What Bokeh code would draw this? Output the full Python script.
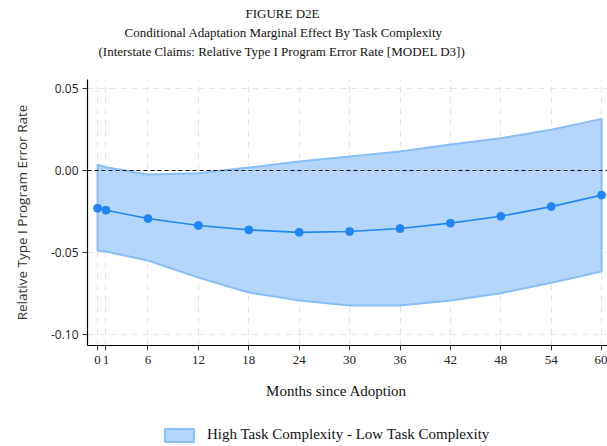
from bokeh.plotting import figure
from bokeh.layouts import column
from bokeh.models import Legend, LegendItem, FixedTicker, Range1d, Span, Title, Label
from bokeh.embed import file_html
from bokeh.resources import INLINE

# ---- data ----
months = [0, 1, 6, 12, 18, 24, 30, 36, 42, 48, 54, 60]
effect = [-0.0230, -0.0242, -0.0293, -0.0335, -0.0362, -0.0377, -0.0372, -0.0354, -0.0321, -0.0279, -0.0220, -0.0150]
upper = [0.0035, 0.0020, -0.0024, -0.0016, 0.0018, 0.0055, 0.0085, 0.0116, 0.0159, 0.0197, 0.0248, 0.0315]
lower = [-0.0488, -0.0494, -0.0549, -0.0652, -0.0744, -0.0793, -0.0823, -0.0823, -0.0793, -0.0748, -0.0685, -0.0616]
x_ticks = [0, 1, 6, 12, 18, 24, 30, 36, 42, 48, 54, 60]
y_ticks = [0.05, 0.0, -0.05, -0.10]
y_tick_labels = ["0.05", "0.00", "-0.05", "-0.10"]
title_lines = ["FIGURE D2E",
               "Conditional Adaptation Marginal Effect By Task Complexity",
               "(Interstate Claims: Relative Type I Program Error Rate [MODEL D3])"]
x_label = "Months since Adoption"
legend_label = "High Task Complexity - Low Task Complexity"

SERIF = "Liberation Serif"
SANS = "Open Sans"
BAND_FILL = "#b5d6fc"
BAND_LINE = "#86bdfa"

p = figure(frame_width=520, frame_height=266, output_backend="svg", toolbar_location=None, title=None,
           x_range=Range1d(-1.2, 60.7), y_range=Range1d(-0.1067, 0.0555),
           min_border_left=87, min_border_right=0, min_border_top=79, min_border_bottom=30)
p.outline_line_color = None

# grid
for g in (p.xgrid, p.ygrid):
    g.grid_line_color = "#e4e4e4"
    g.grid_line_dash = "6 5"
    g.grid_line_width = 1.2
p.xgrid.ticker = FixedTicker(ticks=x_ticks)
p.ygrid.ticker = FixedTicker(ticks=y_ticks)

# band
band_x = months + months[::-1]
band_y = upper + lower[::-1]
band = p.patch(band_x, band_y, fill_color=BAND_FILL, fill_alpha=1.0,
               line_color=BAND_LINE, line_width=2)

# zero line
p.add_layout(Span(location=0, dimension="width", line_color="black",
                  line_dash="4 3", line_width=1.2))

# effect line + points
p.line(months, effect, line_color="#2186f5", line_width=1.6)
p.scatter(months, effect, size=8, fill_color="#2186f5", line_color="#2186f5")

# axes
p.xaxis.ticker = FixedTicker(ticks=x_ticks)
p.yaxis.ticker = FixedTicker(ticks=y_ticks)
p.yaxis.major_label_overrides = {t: l for t, l in zip(y_ticks, y_tick_labels)}
for ax in (p.xaxis, p.yaxis):
    ax.axis_line_color = "black"
    ax.axis_line_width = 1.2
    ax.major_tick_line_color = "#333333"
    ax.major_tick_out = 5
    ax.major_tick_in = 0
    ax.minor_tick_line_color = None
    ax.major_label_text_color = "#222222"
p.xaxis.major_label_text_font = SERIF
p.xaxis.major_label_text_font_size = "13px"
p.xaxis.major_label_standoff = 5
p.yaxis.major_label_text_font = SANS
p.yaxis.major_label_text_font_size = "12px"
p.yaxis.major_label_standoff = 4
p.yaxis.axis_label = "Relative Type I Program Error Rate"
p.yaxis.axis_label_text_font = SANS
p.yaxis.axis_label_text_font_size = "13.5px"
p.yaxis.axis_label_text_font_style = "normal"
p.yaxis.axis_label_text_color = "#333333"
p.yaxis.axis_label_standoff = 17

# spacer between frame and title block
p.add_layout(Title(text=" ", text_font_size="13px", standoff=3), "above")
# titles (stacked above, closest first)
offsets = [158, 37, 11]
for txt, off in reversed(list(zip(title_lines, offsets))):
    p.add_layout(Title(text=txt, align="left", offset=off, text_font=SERIF,
                       text_font_size="13px", text_font_style="normal",
                       text_color="#111111", standoff=2), "above")

# ---- bottom strip: x-axis title and legend ----
p2 = figure(width=607, height=71, output_backend="svg", toolbar_location=None, title=None,
            x_range=Range1d(1000, 1001), y_range=Range1d(1000, 1001),
            x_axis_type=None, y_axis_type=None, min_border=0)
p2.outline_line_color = None
p2.grid.visible = False
swatch = p2.patch(band_x, band_y, fill_color=BAND_FILL, fill_alpha=1.0,
                  line_color=BAND_LINE, line_width=2, visible=False)

p2.add_layout(Label(x=249, y=56, x_units="screen", y_units="screen", text=x_label,
                    text_align="center", text_baseline="middle",
                    text_font=SERIF, text_font_size="15px", text_color="#111111"))

legend = Legend(items=[LegendItem(label=legend_label, renderers=[swatch])],
                location=(74, 3), orientation="horizontal",
                label_text_font=SERIF, label_text_font_size="15px", label_text_color="#111111",
                glyph_width=36, glyph_height=16, border_line_color=None,
                background_fill_alpha=0, padding=0, margin=0, label_standoff=10,
                inactive_fill_alpha=0, click_policy="none")
p2.add_layout(legend, "center")

layout = column(p, p2, spacing=0)
open("out.html", "w").write(file_html(layout, INLINE))
